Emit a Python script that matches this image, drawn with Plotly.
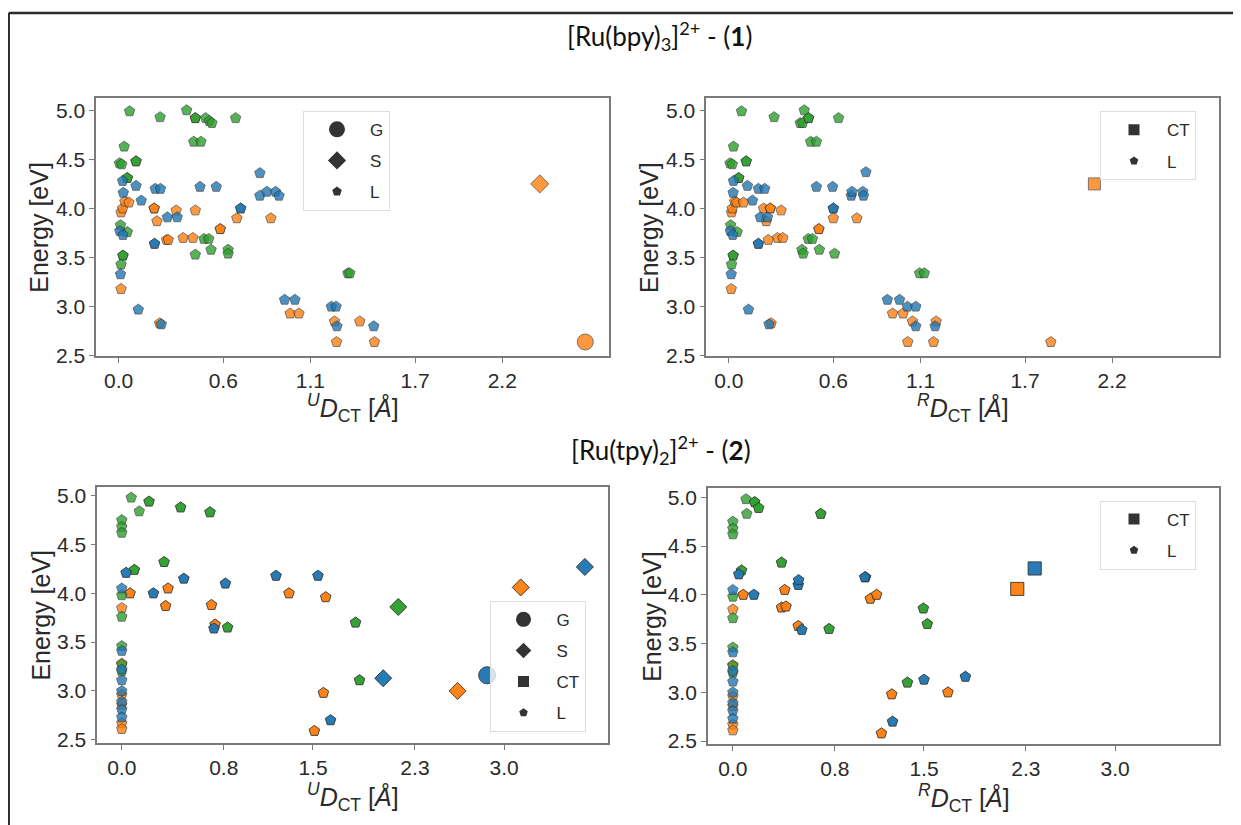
import plotly.graph_objects as go

W, H = 1241, 825
OFF = 8  # browser body margin offset (px)

# ---------------- tick labels ----------------
energy_ticks = [2.5, 3.0, 3.5, 4.0, 4.5, 5.0]
bpy_xticks = [0.0, 0.6, 1.1, 1.7, 2.2]
tpy_xticks = [0.0, 0.8, 1.5, 2.3, 3.0]

# ---------------- [Ru(bpy)3]2+ , unrelaxed D_CT ----------------
bpy_U_L_orange_x = [0.014, 0.023, 0.036, 0.059, 0.204, 0.204, 0.22, 0.33, 0.44, 0.275, 0.285, 0.37, 0.426,
                    0.583, 0.583, 0.678, 0.873, 0.014, 0.235, 0.984, 1.034, 1.238, 1.383, 1.25, 1.467]
bpy_U_L_orange_y = [3.96, 4.00, 4.07, 4.06, 4.00, 4.00, 3.87, 3.98, 3.98, 3.68, 3.68, 3.70, 3.70,
                    3.79, 3.79, 3.90, 3.90, 3.18, 2.83, 2.93, 2.93, 2.85, 2.85, 2.64, 2.64]
bpy_U_L_green_x = [0.063, 0.238, 0.39, 0.44, 0.44, 0.499, 0.52, 0.535, 0.671, 0.431, 0.472, 0.032, 0.005, 0.018,
                   0.10, 0.10, 0.05, 0.05, 0.011, 0.05, 0.025, 0.025, 0.014, 0.44, 0.49, 0.517, 0.53, 0.628,
                   0.628, 1.315, 1.326]
bpy_U_L_green_y = [4.99, 4.93, 5.00, 4.92, 4.92, 4.92, 4.89, 4.87, 4.92, 4.68, 4.68, 4.63, 4.46, 4.45,
                   4.48, 4.48, 4.31, 4.31, 3.83, 3.76, 3.52, 3.52, 3.43, 3.53, 3.69, 3.69, 3.58, 3.58,
                   3.54, 3.34, 3.34]
bpy_U_L_blue_x = [0.023, 0.027, 0.10, 0.13, 0.21, 0.24, 0.467, 0.56, 0.81, 0.81, 0.85, 0.90, 0.92, 0.70, 0.70,
                  0.28, 0.336, 0.007, 0.025, 0.206, 0.206, 0.011, 0.113, 0.245, 0.952, 1.011, 1.22, 1.247,
                  1.252, 1.463]
bpy_U_L_blue_y = [4.28, 4.16, 4.23, 4.08, 4.20, 4.20, 4.22, 4.22, 4.36, 4.13, 4.17, 4.17, 4.13, 4.00, 4.00,
                  3.91, 3.91, 3.77, 3.73, 3.64, 3.64, 3.33, 2.97, 2.82, 3.07, 3.07, 3.00, 3.00,
                  2.80, 2.80]
bpy_U_G_x = [2.676]
bpy_U_G_y = [2.64]
bpy_U_G_c = ["orange"]
bpy_U_S_x = [2.415]
bpy_U_S_y = [4.25]
bpy_U_S_c = ["orange"]

# ---------------- [Ru(bpy)3]2+ , relaxed D_CT ----------------
bpy_R_L_orange_x = [0.016, 0.02, 0.034, 0.045, 0.084, 0.2, 0.238, 0.238, 0.215, 0.30, 0.227, 0.28, 0.31,
                    0.517, 0.517, 0.60, 0.735, 0.014, 0.243, 0.94, 1.0, 1.054, 1.19, 1.027, 1.175, 1.848]
bpy_R_L_orange_y = [3.96, 4.00, 4.07, 4.06, 4.06, 4.00, 4.00, 4.00, 3.87, 3.98, 3.68, 3.70, 3.70,
                    3.79, 3.79, 3.90, 3.90, 3.18, 2.83, 2.93, 2.93, 2.85, 2.85, 2.64, 2.64, 2.64]
bpy_R_L_green_x = [0.073, 0.26, 0.433, 0.41, 0.424, 0.458, 0.458, 0.63, 0.47, 0.503, 0.027, 0.007, 0.02,
                   0.10, 0.10, 0.057, 0.057, 0.011, 0.048, 0.025, 0.025, 0.016, 0.42, 0.427, 0.456, 0.48,
                   0.52, 0.607, 1.095, 1.122]
bpy_R_L_green_y = [4.99, 4.93, 5.00, 4.87, 4.87, 4.92, 4.92, 4.92, 4.68, 4.68, 4.63, 4.46, 4.45,
                   4.48, 4.48, 4.31, 4.31, 3.83, 3.76, 3.52, 3.52, 3.43, 3.58, 3.54, 3.69, 3.69,
                   3.58, 3.54, 3.34, 3.34]
bpy_R_L_blue_x = [0.027, 0.025, 0.107, 0.136, 0.17, 0.206, 0.503, 0.596, 0.787, 0.703, 0.707, 0.769, 0.773,
                  0.60, 0.60, 0.181, 0.222, 0.009, 0.023, 0.17, 0.17, 0.014, 0.113, 0.231, 0.91, 0.98,
                  1.025, 1.073, 1.073, 1.184]
bpy_R_L_blue_y = [4.28, 4.16, 4.23, 4.08, 4.20, 4.20, 4.22, 4.22, 4.37, 4.13, 4.17, 4.17, 4.13,
                  4.00, 4.00, 3.91, 3.91, 3.77, 3.73, 3.64, 3.64, 3.33, 2.97, 2.82, 3.07, 3.07,
                  3.00, 3.00, 2.80, 2.80]
bpy_R_CT_x = [2.098]
bpy_R_CT_y = [4.25]
bpy_R_CT_c = ["orange"]

# ---------------- [Ru(tpy)2]2+ , unrelaxed D_CT ----------------
tpy_U_L_orange_x = [0, 0, 0, 0, 0, 0, 0.065, 0.065, 0.344, 0.344, 0.363, 0.363, 0.704, 0.704, 0.732, 0.732,
                    1.312, 1.312, 1.60, 1.60, 1.582, 1.582, 1.511, 1.511]
tpy_U_L_orange_y = [3.85, 3.28, 2.96, 2.86, 2.67, 2.61, 4.00, 4.00, 3.87, 3.87, 4.05, 4.05, 3.88, 3.88, 3.68, 3.68,
                    4.00, 4.00, 3.96, 3.96, 2.98, 2.98, 2.59, 2.59]
tpy_U_L_green_x = [0, 0, 0, 0, 0, 0, 0, 0, 0.074, 0.137, 0.214, 0.214, 0.462, 0.462, 0.692, 0.692,
                   0.099, 0.099, 0.332, 0.332, 0.83, 0.83, 1.834, 1.834, 1.865, 1.865]
tpy_U_L_green_y = [4.75, 4.68, 4.62, 3.98, 3.76, 3.46, 3.27, 3.20, 4.98, 4.84, 4.94, 4.94, 4.88, 4.88, 4.83, 4.83,
                   4.24, 4.24, 4.32, 4.32, 3.65, 3.65, 3.70, 3.70, 3.11, 3.11]
tpy_U_L_blue_x = [0, 0, 0, 0, 0, 0, 0, 0, 0.034, 0.034, 0.248, 0.248, 0.487, 0.487, 0.813, 0.813,
                  1.21, 1.21, 1.539, 1.539, 0.723, 0.723, 1.638, 1.638]
tpy_U_L_blue_y = [4.05, 3.41, 3.22, 3.11, 3.00, 2.89, 2.81, 2.73, 4.21, 4.21, 4.00, 4.00, 4.15, 4.15, 4.10, 4.10,
                  4.18, 4.18, 4.18, 4.18, 3.64, 3.64, 2.70, 2.70]
tpy_U_S_x = [2.634, 2.634, 3.13, 3.13, 2.169, 2.169, 2.051, 2.051, 3.633, 3.633]
tpy_U_S_y = [3.00, 3.00, 4.06, 4.06, 3.86, 3.86, 3.13, 3.13, 4.27, 4.27]
tpy_U_S_c = ["orange", "orange", "orange", "orange", "green", "green", "blue", "blue", "blue", "blue"]
tpy_U_G_x = [2.867, 2.867]
tpy_U_G_y = [3.16, 3.16]
tpy_U_G_c = ["blue", "blue"]

# ---------------- [Ru(tpy)2]2+ , relaxed D_CT ----------------
tpy_R_L_orange_x = [0, 0, 0, 0, 0, 0, 0.081, 0.081, 0.382, 0.382, 0.417, 0.417, 0.407, 0.407, 0.513, 0.513,
                    1.079, 1.079, 1.128, 1.128, 1.247, 1.247, 1.688, 1.688, 1.166, 1.166]
tpy_R_L_orange_y = [3.85, 3.28, 2.96, 2.86, 2.67, 2.61, 4.00, 4.00, 3.87, 3.87, 3.88, 3.88, 4.05, 4.05, 3.68, 3.68,
                    3.96, 3.96, 4.00, 4.00, 2.98, 2.98, 3.00, 3.00, 2.58, 2.58]
tpy_R_L_green_x = [0, 0, 0, 0, 0, 0, 0, 0, 0.103, 0.109, 0.171, 0.171, 0.202, 0.202, 0.69, 0.69,
                   0.068, 0.068, 0.382, 0.382, 0.755, 0.755, 1.495, 1.495, 1.526, 1.526, 1.37, 1.37]
tpy_R_L_green_y = [4.75, 4.68, 4.62, 3.98, 3.76, 3.46, 3.27, 3.20, 4.98, 4.83, 4.95, 4.95, 4.89, 4.89, 4.83, 4.83,
                   4.25, 4.25, 4.33, 4.33, 3.65, 3.65, 3.86, 3.86, 3.70, 3.70, 3.10, 3.10]
tpy_R_L_blue_x = [0, 0, 0, 0, 0, 0, 0, 0, 0.047, 0.047, 0.165, 0.165, 0.513, 0.513, 0.516, 0.516,
                  1.041, 1.041, 1.035, 1.035, 0.541, 0.541, 1.253, 1.253, 1.50, 1.50, 1.825, 1.825]
tpy_R_L_blue_y = [4.05, 3.41, 3.22, 3.11, 3.00, 2.89, 2.81, 2.73, 4.21, 4.21, 4.00, 4.00, 4.10, 4.10, 4.15, 4.15,
                  4.18, 4.18, 4.18, 4.18, 3.64, 3.64, 2.70, 2.70, 3.13, 3.13, 3.16, 3.16]
tpy_R_CT_x = [2.232, 2.232, 2.369, 2.369]
tpy_R_CT_y = [4.06, 4.06, 4.27, 4.27]
tpy_R_CT_c = ["orange", "orange", "blue", "blue"]

# ---------------- styling ----------------
COLORS = {"blue": "#1f77b4", "orange": "#ff7f0e", "green": "#2ca02c"}
EDGE = "#333333"
FONT = "Liberation Sans, Arial, sans-serif"
TFONT = "Lato, Open Sans, sans-serif"
AXC = "#7a7a7a"
TXT = "#2a2a2a"

fig = go.Figure()


def add_pts(x, y, cols, symbol, size, ax):
    fig.add_trace(go.Scatter(
        x=x, y=y, mode="markers", xaxis="x" + ax, yaxis="y" + ax, showlegend=False,
        hoverinfo="skip",
        marker=dict(symbol=symbol, size=size, color=[COLORS[c] for c in cols], opacity=0.8,
                    line=dict(color=EDGE, width=0.8))))


def add_L(x, y, color, ax):
    add_pts(x, y, [color] * len(x), "pentagon", 11, ax)


panels = [
    ("", [(bpy_U_L_orange_x, bpy_U_L_orange_y, "orange"), (bpy_U_L_green_x, bpy_U_L_green_y, "green"),
          (bpy_U_L_blue_x, bpy_U_L_blue_y, "blue")],
     [(bpy_U_S_x, bpy_U_S_y, bpy_U_S_c, "diamond", 14), (bpy_U_G_x, bpy_U_G_y, bpy_U_G_c, "circle", 16)]),
    ("2", [(bpy_R_L_orange_x, bpy_R_L_orange_y, "orange"), (bpy_R_L_green_x, bpy_R_L_green_y, "green"),
           (bpy_R_L_blue_x, bpy_R_L_blue_y, "blue")],
     [(bpy_R_CT_x, bpy_R_CT_y, bpy_R_CT_c, "square", 12)]),
    ("3", [(tpy_U_L_orange_x, tpy_U_L_orange_y, "orange"), (tpy_U_L_green_x, tpy_U_L_green_y, "green"),
           (tpy_U_L_blue_x, tpy_U_L_blue_y, "blue")],
     [(tpy_U_S_x, tpy_U_S_y, tpy_U_S_c, "diamond", 13), (tpy_U_G_x, tpy_U_G_y, tpy_U_G_c, "circle", 17)]),
    ("4", [(tpy_R_L_orange_x, tpy_R_L_orange_y, "orange"), (tpy_R_L_green_x, tpy_R_L_green_y, "green"),
           (tpy_R_L_blue_x, tpy_R_L_blue_y, "blue")],
     [(tpy_R_CT_x, tpy_R_CT_y, tpy_R_CT_c, "square", 13)]),
]

for ax, Ls, specials in panels:
    for x, y, c in Ls:
        add_L(x, y, c, ax)
    for x, y, cols, sym, sz in specials:
        add_pts(x, y, cols, sym, sz, ax)

# legends (marker-shape keys)
legend_items = {
    "legend": [("G", "circle", 16), ("S", "diamond", 14), ("L", "pentagon", 10)],
    "legend2": [("CT", "square", 11), ("L", "pentagon", 9)],
    "legend3": [("G", "circle", 15), ("S", "diamond", 12), ("CT", "square", 11), ("L", "pentagon", 9)],
    "legend4": [("CT", "square", 11), ("L", "pentagon", 9)],
}
for lid, items in legend_items.items():
    for name, sym, sz in items:
        fig.add_trace(go.Scatter(
            x=[None], y=[None], mode="markers", name=name, legend=lid,
            legendgroup=lid + name, showlegend=True,
            marker=dict(symbol=sym, size=sz, color="#333333", line=dict(width=0))))

leg_common = dict(bgcolor="rgba(255,255,255,0.8)", bordercolor="#dddddd", borderwidth=1,
                  font=dict(family=FONT, size=17, color=TXT), itemwidth=56, tracegroupgap=6,
                  itemsizing="trace", xanchor="left", yanchor="top", itemclick=False,
                  itemdoubleclick=False)


def px_x(v):
    return (v - OFF) / W


def px_y(v):
    return 1 - (v - OFF) / H


def xaxis_cfg(dom, rng, ticks, anchor):
    return dict(domain=[px_x(dom[0]), px_x(dom[1])], range=rng, tickvals=ticks,
                ticktext=[f"{t:.1f}" for t in ticks], anchor=anchor, showline=True, mirror=True,
                linecolor=AXC, linewidth=1.6, ticks="outside", ticklen=5, tickwidth=1.3, tickcolor=AXC,
                showgrid=False, zeroline=False, tickfont=dict(family=FONT, size=21, color=TXT))


def yaxis_cfg(dom, rng, anchor):
    return dict(domain=[px_y(dom[1]), px_y(dom[0])], range=rng, tickvals=energy_ticks,
                ticktext=[f"{t:.1f}" for t in energy_ticks], anchor=anchor, showline=True, mirror=True,
                linecolor=AXC, linewidth=1.6, ticks="outside", ticklen=5, tickwidth=1.3, tickcolor=AXC,
                showgrid=False, zeroline=False, tickfont=dict(family=FONT, size=21, color=TXT))


annotations = [
    dict(text="[Ru(bpy)<sub>3</sub>]<sup>2+</sup> - (<b>1</b>)", x=px_x(659), y=px_y(33)),
    dict(text="[Ru(tpy)<sub>2</sub>]<sup>2+</sup> - (<b>2</b>)", x=px_x(661), y=px_y(455)),
]
for a in annotations:
    a.update(xref="paper", yref="paper", showarrow=False, xanchor="center", yanchor="middle",
             font=dict(family=TFONT, size=26, color="#111111"))


def xlabel(sup):
    return "<i><sup>" + sup + "</sup>D</i><sub>CT</sub> [<i>Å</i>]"


axis_titles = [
    ("Energy [eV]", 39.5, 228, -90), ("Energy [eV]", 649.7, 228, -90),
    ("Energy [eV]", 41.5, 622.5, -90), ("Energy [eV]", 651.7, 623.6, -90),
    (xlabel("U"), 352.5, 412, 0), (xlabel("R"), 962.5, 412, 0),
    (xlabel("U"), 352.7, 808, 0), (xlabel("R"), 963.5, 809, 0),
]
for text, x, y, ang in axis_titles:
    annotations.append(dict(text=text, x=px_x(x), y=px_y(y), xref="paper", yref="paper", showarrow=False,
                            xanchor="center", yanchor="middle", textangle=ang,
                            font=dict(family=FONT, size=25, color=TXT)))

shapes = [
    dict(type="line", xref="paper", yref="paper", x0=px_x(8.7), x1=1.05, y0=px_y(10), y1=px_y(10),
         line=dict(color="#2b2b2b", width=2.5)),
    dict(type="line", xref="paper", yref="paper", x0=px_x(8.7), x1=px_x(8.7), y0=-0.05, y1=px_y(10),
         line=dict(color="#2b2b2b", width=2.5)),
]

fig.update_layout(
    width=W, height=H, margin=dict(l=0, r=0, t=0, b=0), autosize=False,
    paper_bgcolor="white", plot_bgcolor="white", showlegend=True,
    xaxis=xaxis_cfg((96.1, 609), [-0.129, 2.812], bpy_xticks, "y"),
    yaxis=yaxis_cfg((96.7, 359), [2.497, 5.123], "x"),
    xaxis2=xaxis_cfg((706.3, 1218.8), [-0.129, 2.812], bpy_xticks, "y2"),
    yaxis2=yaxis_cfg((96.7, 359), [2.497, 5.123], "x2"),
    xaxis3=xaxis_cfg((97.3, 608.2), [-0.192, 3.816], tpy_xticks, "y3"),
    yaxis3=yaxis_cfg((492.3, 752.7), [2.466, 5.088], "x3"),
    xaxis4=xaxis_cfg((707.9, 1219.2), [-0.196, 3.817], tpy_xticks, "y4"),
    yaxis4=yaxis_cfg((493.3, 754), [2.467, 5.094], "x4"),
    legend=dict(x=px_x(303), y=px_y(109.5), **leg_common),
    legend2=dict(x=px_x(1100), y=px_y(110), **leg_common),
    legend3=dict(x=px_x(489.5), y=px_y(608), **leg_common),
    legend4=dict(x=px_x(1100), y=px_y(506), **leg_common),
    annotations=annotations,
    shapes=shapes,
)

fig.write_html("out.html")
